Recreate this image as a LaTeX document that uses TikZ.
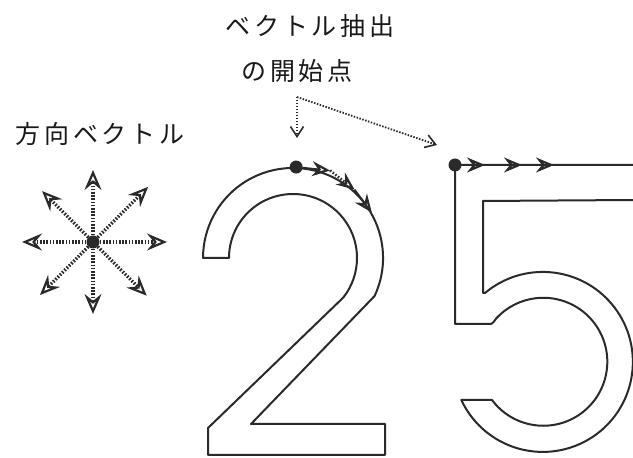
\documentclass[tikz,border=0pt]{standalone}
\usepackage{fontspec}
\newfontfamily\cjk{Noto Sans CJK JP}[LetterSpace=15]
\usetikzlibrary{arrows.meta,calc}
\definecolor{inkc}{HTML}{2A2A2A}
\begin{document}
\begin{tikzpicture}[x=1pt,y=1pt,
  ink/.style={draw=inkc, line width=2pt, line join=round},
  lbl/.style={font=\cjk\fontsize{25}{30}\selectfont, text=black!90, inner sep=0pt},
  dirvec/.style={draw=inkc, line width=3.2pt, dash pattern=on 1.6pt off 1.6pt,
     -{Stealth[open,length=20pt,width=17pt,inset=7pt,line width=2.2pt]}},
  vecsolid/.style={draw=inkc, line width=1.8pt,
     -{Stealth[open,length=18pt,width=15pt,inset=6pt,line width=2.2pt]}},
  vecdot/.style={vecsolid, line width=2.6pt, dash pattern=on 1.5pt off 1.8pt},
  lblarrow/.style={draw=inkc, line width=1.8pt, dash pattern=on 1.5pt off 1.5pt,
     -{Straight Barb[length=10pt,width=13pt,line width=1.6pt]}},
  startdot/.style={circle, fill=inkc, inner sep=0pt, minimum size=13pt}
]
\useasboundingbox (0,0) rectangle (633,458);
\clip (0,0) rectangle (633,458);

% labels
\node[lbl] (t1) at (310,432) {ベクトル抽出};
\node[lbl] (t2) at (297,387) {の開始点};
\node[lbl] (t3) at (100,324) {方向ベクトル};

% label arrows
\coordinate (src) at (297,361);
\coordinate (tg2) at (297,320);
\coordinate (tg5) at (437,313);
\draw[lblarrow, line width=2.6pt] (src) -- (tg2);
\draw[lblarrow] (src) -- (tg5);

% direction vectors star
\node[startdot] (c) at (93,216) {};
\foreach \a/\r in {0/74,45/78,90/72,135/72,180/71,225/75,270/72,315/76}{
  \path (93,216) ++(\a:\r) coordinate (e\a);
  \draw[dirvec] (c) -- (e\a);
}

% digit 2
\coordinate (c2) at (293,200);
\draw[ink] (203,200) -- (229,200)
  arc[start angle=180, end angle=-38, radius=64]
  -- (208,30) -- (208,3) -- (385,3) -- (385,34) -- (251,34)
  -- (374.6,162) arc[start angle=-25, end angle=180, radius=90] -- cycle;
\path (c2) ++(88:91) node[startdot] (d2) {};
\path (c2) ++(67:95) coordinate (a1);
\path (c2) ++(48:92) coordinate (a2);
\path (c2) ++(30:91) coordinate (a3);
\draw[vecsolid] (d2) -- (a1);
\draw[vecdot] (a1) -- (a2);
\draw[vecsolid] (a2) -- (a3);

% digit 5
\draw[ink] (455,293) -- (634,293) -- (634,258) -- (483,257) -- (483,165) -- (485,165)
  arc[start angle=130, end angle=-155, radius=90]
  -- (492,58) arc[start angle=-143.3, end angle=137, radius=64]
  to[out=225, in=0] (490,134) -- (455,134) -- cycle;
\node[startdot] (d5) at (455,293) {};
\coordinate (b1) at (485,293);
\coordinate (b2) at (522,293);
\coordinate (b3) at (554,293);
\draw[vecsolid] (d5) -- (b1);
\draw[vecsolid] (b1) -- (b2);
\draw[vecdot] (b2) -- (b3);
\end{tikzpicture}
\end{document}
